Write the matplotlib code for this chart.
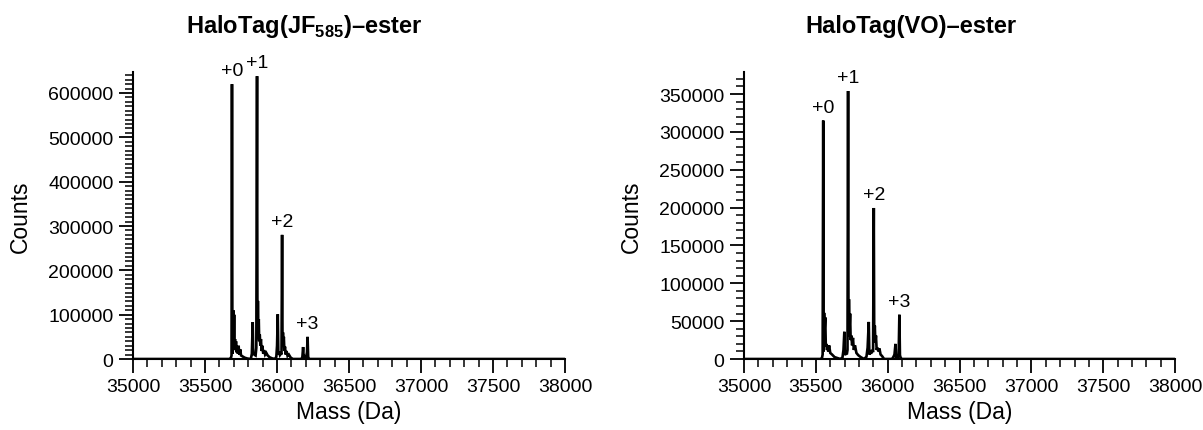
import matplotlib
matplotlib.use('Agg')
import matplotlib.pyplot as plt
from matplotlib.ticker import MultipleLocator

plt.rcParams['font.family'] = ['Liberation Sans', 'DejaVu Sans']
plt.rcParams['mathtext.fontset'] = 'custom'
plt.rcParams['mathtext.rm'] = 'Liberation Sans'
plt.rcParams['mathtext.bf'] = 'Liberation Sans:bold'

# deconvoluted spectrum, HaloTag(JF585)-ester
jf_mass = [35000, 35670, 35680, 35684, 35687, 35690, 35693, 35696, 35699, 35702,
           35705, 35708, 35711, 35715, 35719, 35724, 35728, 35733, 35738, 35744,
           35750, 35760, 35775, 35795, 35818, 35825, 35831, 35835, 35840, 35846,
           35851, 35856, 35861, 35864, 35867, 35870, 35873, 35876, 35880, 35884,
           35888, 35893, 35898, 35904, 35910, 35917, 35925, 35935, 35948, 35965,
           35985, 35995, 36000, 36005, 36009, 36014, 36020, 36026, 36031, 36035,
           36038, 36041, 36044, 36047, 36051, 36055, 36060, 36066, 36073, 36082,
           36095, 36110, 36170, 36176, 36181, 36185, 36191, 36198, 36204, 36208,
           36212, 36216, 36222, 38000]
jf_counts = [0, 0, 3000, 8000, 620000, 12000, 70000, 110000, 35000, 100000,
             30000, 45000, 20000, 40000, 15000, 27000, 12000, 30000, 10000, 22000,
             8000, 6000, 3000, 1000, 0, 12000, 83000, 9000, 14000, 9000,
             8000, 25000, 638000, 45000, 131000, 70000, 90000, 40000, 55000, 30000,
             45000, 18000, 30000, 12000, 20000, 10000, 14000, 8000, 4000, 1500,
             0, 5000, 30000, 101000, 10000, 16000, 9000, 12000, 10000, 280000,
             30000, 60000, 35000, 50000, 18000, 28000, 10000, 18000, 7000, 10000,
             3000, 0, 0, 5000, 27000, 3000, 6000, 3000, 8000, 15000,
             50000, 5000, 0, 0]

# deconvoluted spectrum, HaloTag(VO)-ester
vo_mass = [35000, 35535, 35543, 35547, 35551, 35554, 35557, 35561, 35565, 35569,
           35573, 35577, 35581, 35586, 35592, 35600, 35612, 35630, 35670, 35685,
           35692, 35698, 35702, 35708, 35715, 35720, 35724, 35727, 35730, 35734,
           35738, 35742, 35747, 35752, 35758, 35764, 35772, 35782, 35795, 35812,
           35835, 35852, 35860, 35868, 35872, 35877, 35884, 35891, 35898, 35903,
           35906, 35910, 35914, 35918, 35923, 35929, 35935, 35942, 35950, 35960,
           35975, 36030, 36040, 36047, 36054, 36058, 36064, 36070, 36076, 36081,
           36085, 36091, 36098, 38000]
vo_counts = [0, 0, 2000, 6000, 315000, 10000, 61000, 40000, 55000, 17000,
             20000, 12000, 15000, 10000, 18000, 8000, 6000, 2500, 0, 2000,
             12000, 36000, 5000, 9000, 6000, 12000, 354000, 30000, 79000, 40000,
             60000, 25000, 31000, 18000, 28000, 12000, 18000, 8000, 5000, 2500,
             0, 3000, 15000, 49000, 6000, 10000, 7000, 12000, 9000, 199500,
             25000, 44000, 22000, 31000, 12000, 15000, 10000, 14000, 6000, 4000,
             0, 0, 3000, 6000, 20000, 3000, 4000, 2000, 6000, 58500,
             5000, 1000, 0, 0]

jf_peaks = ['+0', '+1', '+2', '+3']
jf_peak_mass = [35687, 35861, 36035, 36212]
jf_peak_counts = [620000, 638000, 280000, 50000]
vo_peaks = ['+0', '+1', '+2', '+3']
vo_peak_mass = [35551, 35724, 35903, 36081]
vo_peak_counts = [315000, 354000, 199500, 58500]

panels = [
    dict(mass=jf_mass, counts=jf_counts, peaks=jf_peaks, pm=jf_peak_mass,
         pc=jf_peak_counts, ytop=648000, ymajor=100000,
         title=r'HaloTag(JF$_{\mathbf{585}}$)–ester', rect=[0.1106, 0.1647, 0.3591, 0.6666],
         tx=0.2527),
    dict(mass=vo_mass, counts=vo_counts, peaks=vo_peaks, pm=vo_peak_mass,
         pc=vo_peak_counts, ytop=379500, ymajor=50000,
         title='HaloTag(VO)–ester', rect=[0.6185, 0.1647, 0.3583, 0.6666],
         tx=0.7573),
]

fig = plt.figure(figsize=(12.03, 4.31), dpi=100)
for p in panels:
    ax = fig.add_axes(p['rect'])
    ax.plot(p['mass'], p['counts'], color='black', lw=1.9, solid_joinstyle='miter')
    for lab, m, c in zip(p['peaks'], p['pm'], p['pc']):
        ax.annotate(lab, xy=(m, c), xytext=(0, 6.5), textcoords='offset points',
                    ha='center', va='baseline', fontsize=14)
    ax.set_xlim(35000, 38000)
    ax.set_ylim(0, p['ytop'])
    ax.xaxis.set_major_locator(MultipleLocator(500))
    ax.xaxis.set_minor_locator(MultipleLocator(100))
    ax.yaxis.set_major_locator(MultipleLocator(p['ymajor']))
    ax.yaxis.set_minor_locator(MultipleLocator(10000))
    for side in ['top', 'right']:
        ax.spines[side].set_visible(False)
    for side in ['left', 'bottom']:
        ax.spines[side].set_linewidth(1.5)
    ax.tick_params(which='major', direction='out', length=10, width=1.3,
                   labelsize=14, pad=4)
    ax.tick_params(which='minor', direction='out', length=5.5, width=1.1)
    ax.set_xlabel('Mass (Da)', fontsize=16.5, labelpad=3)
    ax.set_ylabel('Counts', fontsize=16.5)
    ax.yaxis.set_label_coords(-0.235, 0.5)
    fig.text(p['tx'], 0.9227, p['title'], ha='center', va='baseline',
             fontsize=17, fontweight='bold')

fig.savefig('out.png', dpi=100)
